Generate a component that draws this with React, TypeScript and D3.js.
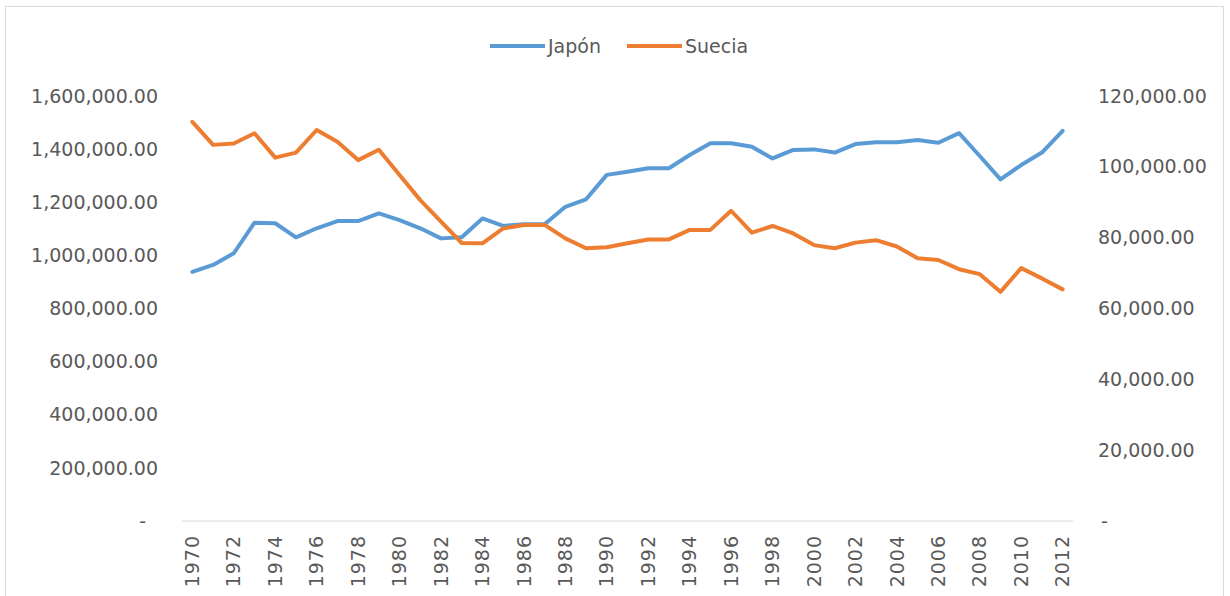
import * as React from 'react';
import * as d3 from 'd3';

const years: number[] = d3.range(1970, 2013);

const japon: number[] = [
	938000, 964000, 1008000, 1123000, 1121000, 1068000, 1102000, 1129000, 1129000, 1158000,
	1133000, 1102000, 1064000, 1068000, 1139000, 1111000, 1117000, 1117000, 1183000, 1211000,
	1303000, 1315000, 1328000, 1328000, 1378000, 1422000, 1422000, 1409000, 1365000, 1397000,
	1399000, 1387000, 1419000, 1426000, 1426000, 1434000, 1424000, 1460000, 1374000, 1286000,
	1340000, 1387000, 1469000,
];

const suecia: number[] = [
	112700, 106200, 106600, 109500, 102600, 104000, 110400, 107100, 101900, 104800,
	97700, 90600, 84500, 78500, 78400, 82600, 83600, 83600, 79800, 77000,
	77300, 78400, 79500, 79500, 82200, 82200, 87600, 81400, 83300, 81200,
	77900, 77000, 78600, 79300, 77500, 74200, 73700, 71100, 69700, 64700,
	71400, 68500, 65400,
];

const leftTicks: number[] = [0, 200000, 400000, 600000, 800000, 1000000, 1200000, 1400000, 1600000];
const rightTicks: number[] = [0, 20000, 40000, 60000, 80000, 100000, 120000];

const series = [
	{ name: 'Japón', color: '#5B9BD5', values: japon, axis: 'left' },
	{ name: 'Suecia', color: '#ED7D31', values: suecia, axis: 'right' },
];

const W = 1230;
const H = 596;
const plot = { left: 182, right: 1073, top: 96, bottom: 521 };
const font = 'DejaVu Sans, sans-serif';
const textColor = '#595959';

export default function App() {
	const x = d3.scalePoint<number>().domain(years).range([plot.left, plot.right]).padding(0.5);
	const yLeft = d3.scaleLinear().domain([0, 1600000]).range([plot.bottom, plot.top]);
	const yRight = d3.scaleLinear().domain([0, 120000]).range([plot.bottom, plot.top]);
	const fmt = d3.format(',.2f');
	const label = (v: number) => (v === 0 ? '-' : fmt(v));

	const lineFor = (scale: d3.ScaleLinear<number, number>) =>
		d3
			.line<number>()
			.x((_, i) => x(years[i]) as number)
			.y(d => scale(d));

	return (
		<svg
			width={W}
			height={H}
			style={{ position: 'absolute', left: 0, top: 0, background: '#fff' }}
			fontFamily={font}
		>
			<rect x={5.5} y={6.5} width={1218} height={600} fill='#fff' stroke='#d9d9d9' />

			{/* legend */}
			<g transform='translate(0,46)'>
				{series.map((s, i) => {
					const x0 = i === 0 ? 490 : 627;
					return (
						<g key={s.name}>
							<line x1={x0} x2={x0 + 55} y1={0} y2={0} stroke={s.color} strokeWidth={4} />
							<text x={x0 + 58} y={0} dy='0.35em' fontSize={19} fill={textColor}>
								{s.name}
							</text>
						</g>
					);
				})}
			</g>

			{/* left axis labels */}
			{leftTicks.map(t => (
				<text
					key={'l' + t}
					x={t === 0 ? 146 : 158}
					y={yLeft(t)}
					dy='0.35em'
					textAnchor='end'
					fontSize={19}
					fill={textColor}
				>
					{label(t)}
				</text>
			))}

			{/* right axis labels */}
			{rightTicks.map(t => (
				<text
					key={'r' + t}
					x={t === 0 ? 1101 : 1098}
					y={yRight(t)}
					dy='0.35em'
					textAnchor='start'
					fontSize={19}
					fill={textColor}
				>
					{label(t)}
				</text>
			))}

			{/* category axis */}
			<line x1={plot.left} x2={plot.right} y1={plot.bottom} y2={plot.bottom} stroke='#d9d9d9' strokeWidth={1} />
			{years
				.filter(yr => (yr - 1970) % 2 === 0)
				.map(yr => (
					<text
						key={yr}
						transform={`translate(${x(yr)},535) rotate(-90)`}
						dy='0.35em'
						textAnchor='end'
						fontSize={19}
						letterSpacing={1}
						fill={textColor}
					>
						{yr}
					</text>
				))}

			{/* lines */}
			{series.map(s => (
				<path
					key={s.name}
					d={lineFor(s.axis === 'left' ? yLeft : yRight)(s.values) ?? ''}
					fill='none'
					stroke={s.color}
					strokeWidth={4}
					strokeLinejoin='round'
					strokeLinecap='round'
				/>
			))}
		</svg>
	);
}
